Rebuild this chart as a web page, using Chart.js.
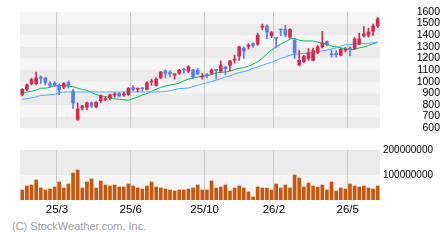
<!DOCTYPE html>
<html lang="en">
<head>
  <meta charset="UTF-8">
  <title>Weekly chart</title>
  <script src="https://cdn.jsdelivr.net/npm/chart.js"></script>
  <style>
    body { margin: 0; width: 440px; height: 240px; background: #fff; position: relative; overflow: hidden;
           font-family: "Liberation Sans", Arial, sans-serif; }
    #priceBox { position: absolute; left: 0; top: 0; width: 440px; height: 140px; }
    #volBox { position: absolute; left: 0; top: 140px; width: 440px; height: 80px; }
    .copy { position: absolute; left: 12px; top: 220px; font-size: 11px; color: #a0a0a0; }
  </style>
</head>
<body>
  <div id="priceBox"><canvas id="priceChart"></canvas></div>
  <div id="volBox"><canvas id="volChart"></canvas></div>
  <div class="copy">(C) StockWeather.com, Inc.</div>

  <script>
    // weekly candles, oldest first
    const open  = [890,933,983,983,1033,1031,983,989,969,953,994,919,675,772,781,817,783,836,847,858,
                   886,900,886,889,950,936,942,933,997,967,1033,1092,1083,1056,1072,1102,1089,1100,1100,1042,
                   1055,1072,1100,1089,1128,1139,1186,1222,1289,1303,1328,1322,1469,1478,1394,1378,1450,1450,1383,1356,
                   1144,1172,1200,1183,1250,1300,1344,1235,1236,1228,1270,1285,1283,1322,1394,1400,1433,1478];
    const high  = [940,981,1028,1083,1050,1039,1000,1000,981,992,1006,933,817,794,825,825,828,886,872,894,
                   906,906,911,950,967,944,950,1000,1022,1033,1089,1103,1094,1069,1106,1117,1139,1106,1114,1072,
                   1072,1111,1100,1178,1130,1183,1228,1306,1300,1328,1333,1417,1494,1489,1433,1380,1452,1483,1456,1367,
                   1267,1228,1283,1289,1311,1433,1350,1272,1267,1283,1294,1300,1378,1417,1472,1461,1494,1550];
    const low   = [878,922,972,972,985,972,956,956,889,939,944,767,667,758,758,775,775,819,836,844,
                   867,872,872,881,922,911,917,928,967,961,1028,1033,1039,1022,1061,1072,1078,1028,1061,1022,
                   1033,1061,1028,1078,1061,1094,1158,1183,1200,1278,1294,1311,1444,1367,1378,1289,1394,1389,1372,1200,
                   1136,1161,1183,1178,1239,1289,1306,1211,1211,1222,1256,1222,1278,1317,1383,1383,1394,1464];
    const close = [933,972,1017,1033,1030,994,967,964,928,983,969,817,767,792,817,792,822,878,852,886,
                   890,875,890,942,933,940,939,989,1002,1022,1083,1072,1067,1067,1100,1098,1128,1039,1067,1046,
                   1051,1100,1097,1139,1111,1178,1192,1300,1261,1317,1306,1400,1475,1428,1422,1372,1444,1400,1450,1244,
                   1183,1217,1250,1267,1300,1333,1317,1231,1232,1278,1274,1281,1367,1367,1411,1428,1478,1539];
    // moving averages
    const maShort = [900,911,917,928,944,944,950,967,967,967,962,956,944,933,925,906,889,878,872,862,
                     853,848,844,840,855,867,885,897,917,935,950,962,970,978,988,1006,1022,1030,1040,1044,
                     1050,1060,1075,1080,1083,1090,1105,1114,1120,1133,1150,1172,1200,1240,1272,1300,1322,1344,1365,1372,
                     1356,1350,1350,1350,1340,1330,1320,1306,1300,1290,1283,1275,1278,1290,1298,1310,1325,1340];
    const maLong  = [850,852,861,869,881,883,889,890,908,910,911,911,911,911,911,911,911,911,911,911,
                     911,911,911,911,911,911,911,911,911,911,912,914,922,933,940,942,945,958,969,980,
                     989,1000,1015,1025,1040,1050,1065,1078,1087,1097,1115,1128,1139,1155,1165,1183,1200,1211,1228,1233,
                     1240,1244,1244,1250,1258,1265,1270,1280,1290,1305,1317,1318,1320,1328,1328,1330,1335,1340];
    // volume (shares)
    const volume = [40,56,60,80,48,40,44,52,72,48,64,108,120,48,72,84,48,76,60,56,
                    60,52,52,64,56,48,44,56,72,52,48,44,40,36,40,40,44,48,60,40,
                    40,76,48,52,60,36,48,56,48,32,12,52,48,48,40,64,48,60,48,100,
                    88,52,68,56,52,60,40,72,36,48,44,64,56,52,56,48,44,56].map(v => v * 1000000);
    // month tick labels (index -> label)
    const tickAt = {8: '25/3', 24: '25/6', 40: '25/10', 55: '26/2', 71: '26/5'};
    const xLabels = open.map((_, i) => tickAt[i] || '');
    const gridIdx = Object.keys(tickAt).map(Number);

    const UP = '#d52a4f', DOWN = '#5b7cf0';
    const candleColor = open.map((o, i) => close[i] >= o ? UP : DOWN);

    // alternating horizontal bands behind the plot
    const bands = {
      id: 'bands',
      beforeDraw(chart, args, opts) {
        const { ctx, chartArea: a, scales: { y } } = chart;
        ctx.save();
        for (let i = 0; i < y.ticks.length - 1; i++) {
          const y0 = y.getPixelForValue(y.ticks[i].value);
          const y1 = y.getPixelForValue(y.ticks[i + 1].value);
          ctx.fillStyle = ((i % 2 === 0) === opts.darkFirst) ? '#ebebeb' : '#f5f5f5';
          ctx.fillRect(a.left, y1, a.right - a.left, y0 - y1);
        }
        ctx.restore();
      }
    };

    const gridColor = c => gridIdx.includes(c.index) ? '#c8c8c8' : 'rgba(0,0,0,0)';

    new Chart(document.getElementById('priceChart'), {
      type: 'bar',
      data: {
        labels: xLabels,
        datasets: [
          { type: 'line', data: maLong, borderColor: '#55a8ff', borderWidth: 1, pointRadius: 0, order: 3 },
          { type: 'line', data: maShort, borderColor: '#00c050', borderWidth: 1, pointRadius: 0, order: 3 },
          { data: low.map((l, i) => [l, high[i]]), backgroundColor: candleColor,
            barThickness: 1, grouped: false, order: 2 },
          { data: open.map((o, i) => [Math.min(o, close[i]), Math.max(o, close[i])]), backgroundColor: candleColor,
            barThickness: 3, minBarLength: 1, grouped: false, order: 1 }
        ]
      },
      options: {
        responsive: true, maintainAspectRatio: false, animation: false, events: [],
        devicePixelRatio: 1,
        layout: { padding: { left: 20, right: 0, top: 10, bottom: 10 } },
        plugins: { legend: { display: false }, tooltip: { enabled: false }, bands: { darkFirst: true } },
        scales: {
          x: {
            offset: true,
            grid: { offset: true, drawTicks: false, color: gridColor },
            border: { display: false },
            ticks: { display: false },
            afterFit: s => { s.height = 0; }
          },
          y: {
            position: 'right', min: 600, max: 1600,
            ticks: { stepSize: 100, autoSkip: false, padding: 5.5, crossAlign: 'far', color: '#000',
                     font: { family: '"Liberation Sans", Arial, sans-serif', size: 10.5 },
                     callback: v => String(v) },
            grid: { display: false, drawTicks: false },
            border: { display: false },
            afterFit: s => { s.width = 60; }
          }
        }
      },
      plugins: [bands]
    });

    new Chart(document.getElementById('volChart'), {
      type: 'bar',
      data: {
        labels: xLabels,
        datasets: [{ data: volume, backgroundColor: '#c8560c', barThickness: 3 }]
      },
      options: {
        responsive: true, maintainAspectRatio: false, animation: false, events: [],
        devicePixelRatio: 1,
        layout: { padding: { left: 20, right: 0, top: 10, bottom: 0 } },
        plugins: { legend: { display: false }, tooltip: { enabled: false }, bands: { darkFirst: false } },
        scales: {
          x: {
            offset: true,
            grid: { offset: true, drawTicks: false, color: gridColor },
            border: { display: false },
            ticks: { autoSkip: false, maxRotation: 0, padding: 3, labelOffset: -2.3, color: '#000',
                     font: { family: '"Liberation Sans", Arial, sans-serif', size: 11.5 } },
            afterFit: s => { s.height = 20; }
          },
          y: {
            position: 'right', min: 0, max: 200000000,
            ticks: { stepSize: 100000000, autoSkip: false, padding: 3, crossAlign: 'near', color: '#000',
                     font: { family: '"Liberation Sans", Arial, sans-serif', size: 10 },
                     callback: v => v === 0 ? '' : String(v) },
            grid: { display: false, drawTicks: false },
            border: { display: false },
            afterFit: s => { s.width = 60; }
          }
        }
      },
      plugins: [bands]
    });
  </script>
</body>
</html>
